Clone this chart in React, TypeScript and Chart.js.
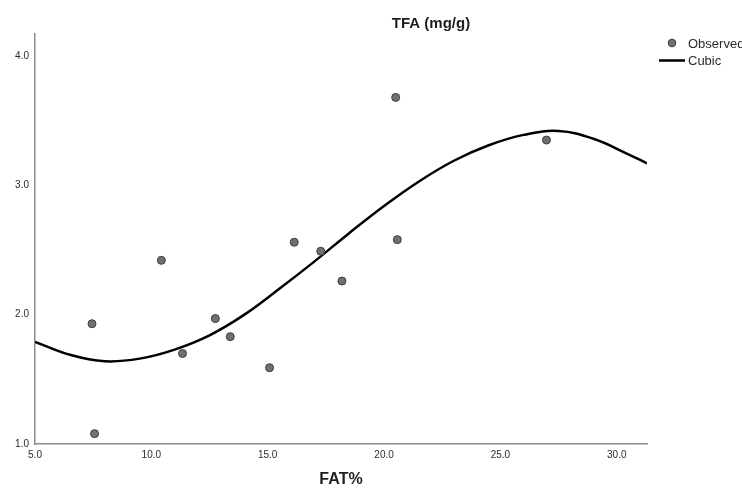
import React, { useEffect, useRef } from 'react';
import { Chart, registerables } from 'chart.js';

Chart.register(...registerables);

// ---- data ----
const chartTitle = 'TFA (mg/g)';
const xAxisTitle = 'FAT%';
const legendLabels = ['Observed', 'Cubic'];

const observedFat = [7.45, 7.56, 10.43, 11.34, 12.75, 13.39, 15.08, 16.14, 17.28, 18.19, 20.5, 20.57, 26.98];
const observedTfa = [1.93, 1.08, 2.42, 1.7, 1.97, 1.83, 1.59, 2.56, 2.49, 2.26, 3.68, 2.58, 3.35];

const cubicFat = [5.0, 6.5, 8.0, 9.5, 11.0, 12.5, 14.0, 15.5, 17.0, 18.5, 20.0, 21.5, 23.0, 24.5, 26.0, 27.5, 29.0, 30.5, 31.3];
const cubicTfa = [1.79, 1.69, 1.64, 1.66, 1.73, 1.84, 2.0, 2.2, 2.41, 2.63, 2.84, 3.03, 3.19, 3.31, 3.39, 3.42, 3.36, 3.24, 3.17];

const xTicks = [5, 10, 15, 20, 25, 30];
const yTicks = [1, 2, 3, 4];
const xMin = 5;
const xMax = 31.3;
const yMin = 1;
const yMax = 4.17;

const FONT = '"Liberation Sans", Arial, Helvetica, sans-serif';
const AXIS_COLOR = '#8c8c8c';
const TEXT_COLOR = '#2b2b2b';
const POINT_FILL = '#707070';
const POINT_BORDER = '#3d3d3d';

const overlayPlugin = {
  id: 'overlayText',
  afterDraw(chart: any) {
    const ctx = chart.ctx as CanvasRenderingContext2D;
    ctx.save();
    // title
    ctx.fillStyle = '#1e1e1e';
    ctx.font = `bold 15px ${FONT}`;
    ctx.textAlign = 'center';
    ctx.textBaseline = 'alphabetic';
    ctx.fillText(chartTitle, 431, 28);

    // legend
    const ds0 = chart.data.datasets[0];
    const ds1 = chart.data.datasets[1];
    ctx.beginPath();
    ctx.arc(672, 43, 3.8, 0, Math.PI * 2);
    ctx.fillStyle = ds0.backgroundColor;
    ctx.fill();
    ctx.lineWidth = 1;
    ctx.strokeStyle = ds0.borderColor;
    ctx.stroke();

    ctx.beginPath();
    ctx.moveTo(659, 60.5);
    ctx.lineTo(685, 60.5);
    ctx.lineWidth = ds1.borderWidth;
    ctx.strokeStyle = ds1.borderColor;
    ctx.stroke();

    ctx.fillStyle = TEXT_COLOR;
    ctx.font = `13px ${FONT}`;
    ctx.textAlign = 'left';
    ctx.fillText(legendLabels[0], 688, 48);
    ctx.fillText(legendLabels[1], 688, 65);
    ctx.restore();
  },
};

export default function App() {
  const canvasRef = useRef<HTMLCanvasElement | null>(null);

  useEffect(() => {
    if (!canvasRef.current) return;
    const chart = new Chart(canvasRef.current, {
      type: 'scatter',
      data: {
        datasets: [
          {
            label: legendLabels[0],
            data: observedFat.map((x, i) => ({ x, y: observedTfa[i] })),
            backgroundColor: POINT_FILL,
            borderColor: POINT_BORDER,
            borderWidth: 1,
            pointRadius: 4,
            order: 0,
          },
          {
            type: 'line',
            label: legendLabels[1],
            data: cubicFat.map((x, i) => ({ x, y: cubicTfa[i] })),
            borderColor: '#000000',
            backgroundColor: '#000000',
            borderWidth: 2.5,
            pointRadius: 0,
            showLine: true,
            fill: false,
            tension: 0.4,
            order: 1,
          } as any,
        ],
      },
      options: {
        animation: false,
        responsive: false,
        devicePixelRatio: 1,
        layout: { padding: { left: 0, top: 34, right: 95, bottom: 0 } },
        plugins: {
          legend: { display: false },
          title: { display: false },
          tooltip: { enabled: false },
        },
        scales: {
          x: {
            type: 'linear',
            min: xMin,
            max: xMax,
            afterBuildTicks: (s: any) => {
              s.ticks = xTicks.map((v) => ({ value: v }));
            },
            afterFit: (s: any) => {
              s.height = 50;
            },
            grid: { display: false, drawTicks: false },
            border: { display: true, color: AXIS_COLOR, width: 1.5 },
            ticks: {
              autoSkip: false,
              maxRotation: 0,
              padding: 5,
              color: TEXT_COLOR,
              font: { family: FONT, size: 10 },
              callback: (v: any) => Number(v).toFixed(1),
            },
            title: {
              display: true,
              text: xAxisTitle,
              color: '#1e1e1e',
              font: { family: FONT, size: 16, weight: 'bold' },
              padding: { top: 0, bottom: 5 },
            },
          },
          y: {
            type: 'linear',
            min: yMin,
            max: yMax,
            afterBuildTicks: (s: any) => {
              s.ticks = yTicks.map((v) => ({ value: v }));
            },
            afterFit: (s: any) => {
              s.width = 35;
            },
            grid: { display: false, drawTicks: false },
            border: { display: true, color: AXIS_COLOR, width: 1.5 },
            ticks: {
              autoSkip: false,
              padding: 6,
              color: TEXT_COLOR,
              font: { family: FONT, size: 10 },
              callback: (v: any) => Number(v).toFixed(1),
            },
          },
        },
      } as any,
      plugins: [overlayPlugin],
    });
    return () => chart.destroy();
  }, []);

  return (
    <div style={{ position: 'absolute', left: 0, top: 0, width: 742, height: 494, background: '#ffffff' }}>
      <canvas ref={canvasRef} width={742} height={494} style={{ display: 'block' }} />
    </div>
  );
}
